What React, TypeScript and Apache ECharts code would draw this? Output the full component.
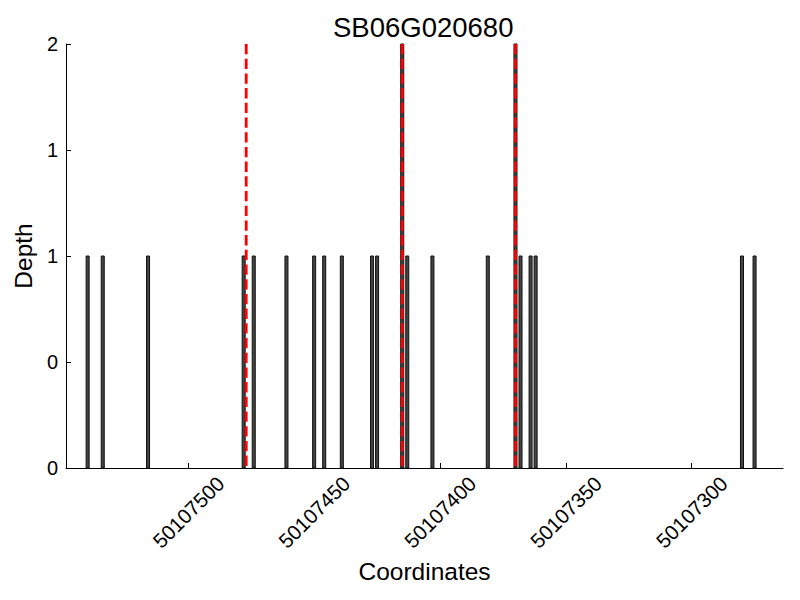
import React, { useEffect, useRef } from "react";
import * as echarts from "echarts";

const chartTitle = "SB06G020680";
const xAxisName = "Coordinates";
const yAxisName = "Depth";
const positions = [
  50107540, 50107534, 50107516, 50107478, 50107474, 50107461, 50107450,
  50107446, 50107439, 50107427, 50107425, 50107415, 50107413, 50107403,
  50107381, 50107370, 50107368, 50107364, 50107362, 50107280, 50107275,
];
const depths = [1, 1, 1, 1, 1, 1, 1, 1, 1, 1, 1, 2, 1, 1, 1, 2, 1, 1, 1, 1, 1];
const markerPositions = [50107477, 50107415, 50107370];
const xTicks = [50107300, 50107350, 50107400, 50107450, 50107500];
const yTicks = [0, 0.5, 1, 1.5, 2];
const xMin = 50107263.7;
const xMax = 50107548.6;

const FONT = "'Liberation Sans', Arial, sans-serif";

export default function App() {
  const ref = useRef<HTMLDivElement>(null);
  useEffect(() => {
    document.body.style.margin = "0";
    const chart = echarts.init(ref.current!, null, { renderer: "svg" });
    const barData = positions.map((p, i) => [p, depths[i]]);
    const markData = markerPositions.map((p) => [p]);
    chart.setOption({
      animation: false,
      backgroundColor: "#fff",
      textStyle: { fontFamily: FONT, color: "#000" },
      title: {
        text: chartTitle,
        left: 328,
        top: 8,
        textStyle: { fontSize: 27.5, fontWeight: "normal", color: "#000", fontFamily: FONT },
      },
      grid: { left: 66, right: 17, top: 44, bottom: 132, containLabel: false, outerBoundsMode: "none" },
      xAxis: {
        type: "value",
        inverse: true,
        min: xMin,
        max: xMax,
        name: xAxisName,
        nameLocation: "middle",
        nameGap: 85,
        nameTextStyle: { fontSize: 24.5, color: "#000", fontFamily: FONT },
        axisLine: { show: true, lineStyle: { color: "#000", width: 1 } },
        axisTick: { show: true, inside: true, length: 5, customValues: xTicks, lineStyle: { color: "#000" } },
        axisLabel: {
          customValues: xTicks,
          rotate: 45,
          align: "center",
          verticalAlign: "middle",
          margin: 44,
          fontSize: 20.5,
          color: "#000",
          fontFamily: FONT,
          formatter: (v: number) => String(Math.round(v)),
        },
        splitLine: { show: false },
      },
      yAxis: {
        type: "value",
        min: 0,
        max: 2,
        interval: 0.5,
        name: yAxisName,
        nameLocation: "middle",
        nameGap: 29,
        nameTextStyle: { fontSize: 24.5, color: "#000", fontFamily: FONT },
        axisLine: { show: true, lineStyle: { color: "#000", width: 1 } },
        axisTick: { show: true, inside: true, length: 5, lineStyle: { color: "#000" } },
        axisLabel: {
          fontSize: 20,
          color: "#000",
          margin: 8,
          fontFamily: FONT,
          customValues: yTicks,
          formatter: (v: number) => String(Math.floor(v)),
        },
        splitLine: { show: false },
      },
      series: [
        {
          type: "custom",
          name: "depth",
          data: barData,
          encode: { x: 0, y: 1 },
          z: 2,
          renderItem: (params: any, api: any) => {
            const x = api.value(0);
            const y = api.value(1);
            const p1 = api.coord([x + 0.6, y]);
            const p2 = api.coord([x - 0.6, 0]);
            return {
              type: "rect",
              shape: {
                x: Math.min(p1[0], p2[0]),
                y: p1[1],
                width: Math.abs(p2[0] - p1[0]),
                height: p2[1] - p1[1],
              },
              style: { fill: "#444444", stroke: "#111", lineWidth: 1 },
            };
          },
        },
        {
          type: "custom",
          name: "markers",
          data: markData,
          encode: { x: 0 },
          z: 5,
          renderItem: (params: any, api: any) => {
            const x = api.value(0);
            const top = api.coord([x, 2]);
            const bottom = api.coord([x, 0]);
            return {
              type: "line",
              shape: { x1: top[0], y1: top[1], x2: bottom[0], y2: bottom[1] },
              style: { stroke: "red", lineWidth: 2.8, lineDash: [10.3, 4.4] },
            };
          },
        },
      ],
    });
    return () => chart.dispose();
  }, []);
  return (
    <div
      ref={ref}
      style={{ position: "fixed", left: 0, top: 0, width: 800, height: 600 }}
    />
  );
}
